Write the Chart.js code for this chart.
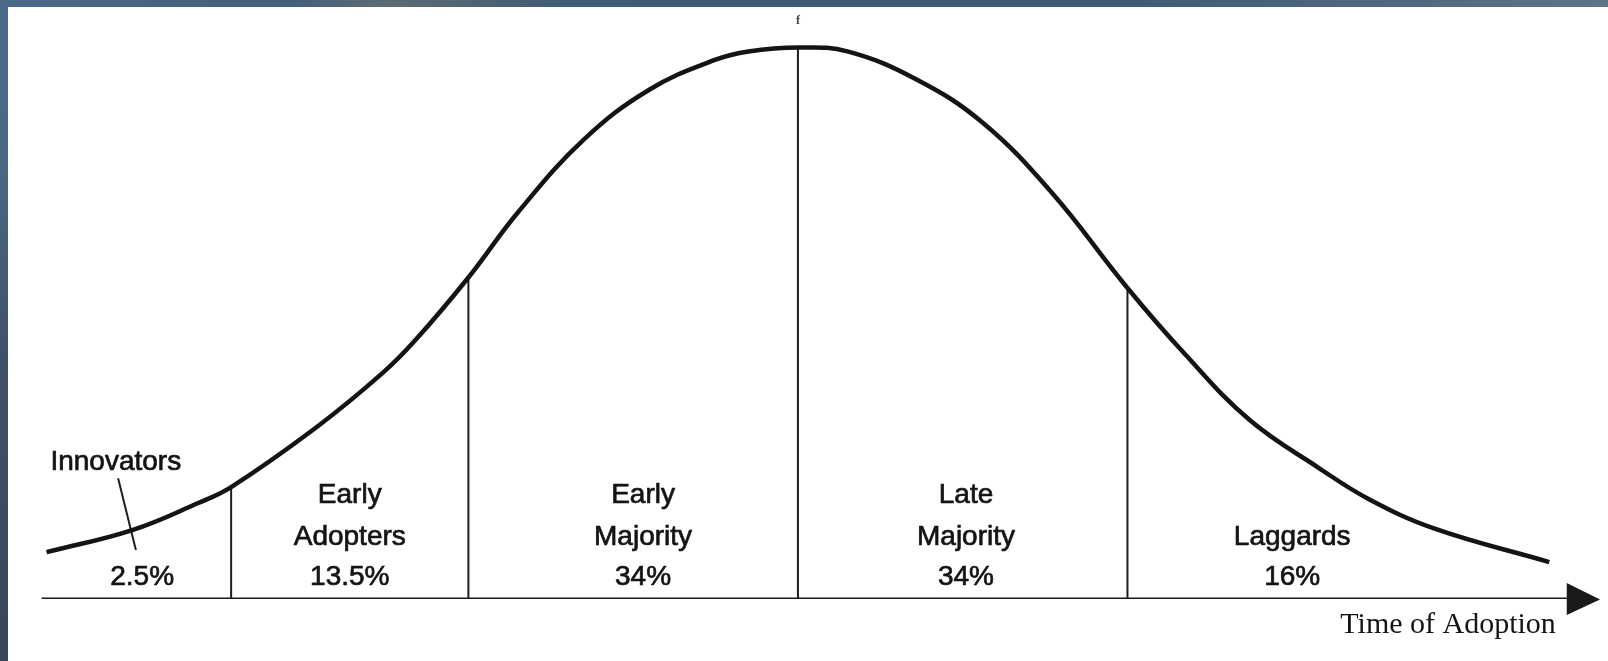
<!DOCTYPE html>
<html lang="en">
<head>
    <meta charset="UTF-8">
    <title>Diffusion of Innovations - Adopter Categories</title>
    <style>
        body {
            margin: 0;
            padding: 0;
            background-color: #fff;
            overflow: hidden;
        }
        .wrap {
            position: relative;
            width: 1608px;
            height: 661px;
        }
        /* slide frame bits along the top and left edge */
        .band-top {
            position: absolute;
            left: 0; top: 0;
            width: 1608px; height: 7px;
            background: linear-gradient(to right, #4a6a87 0%, #41607c 18%, #5d6c72 24%, #3f5b77 35%, #3e5a76 70%, #4d687f 85%, #5b7687 100%);
        }
        .band-left {
            position: absolute;
            left: 0; top: 0;
            width: 8px; height: 661px;
            background: linear-gradient(to bottom, #4b6b89 0%, #4a6883 25%, #3f5168 55%, #3a4457 100%);
        }
        canvas { display: block; }
    </style>
    <script src="https://cdn.jsdelivr.net/npm/chart.js"></script>
</head>
<body>
    <div class="wrap">
        <canvas id="adoptionChart" width="1608" height="661"></canvas>
        <div class="band-top"></div>
        <div class="band-left"></div>
    </div>

    <script>
        // Bell curve (x in std deviations from the mean, y = height, peak = 100)
        const curveX = [-2.28, -2.02, -1.82, -1.72, -1.46, -1.26, -1.16, -1.00, -0.85, -0.65, -0.45, -0.25, -0.15, 0.00,
                        0.15, 0.36, 0.56, 0.77, 1.00, 1.17, 1.37, 1.58, 1.73, 1.93, 2.28];
        const curveY = [8.5, 12.5, 17.4, 20.3, 31.2, 41.0, 47.0, 58.3, 70.1, 83.3, 92.4, 97.8, 99.3, 100,
                        99.3, 94.2, 86.4, 73.7, 56.4, 44.7, 32.5, 23.8, 18.2, 12.8, 6.7];

        // Vertical dividers between the adopter categories
        const dividerX = [-1.72, -1.00, 0.00, 1.00];
        const dividerTop = [20.3, 58.3, 100, 56.4];

        // Category labels
        const segmentNames = [['Innovators'], ['Early', 'Adopters'], ['Early', 'Majority'], ['Late', 'Majority'], ['Laggards']];
        const segmentShares = ['2.5%', '13.5%', '34%', '34%', '16%'];
        const labelX = [-1.99, -1.36, -0.47, 0.51, 1.50];
        const rowY = [2.5, 9.8, 17.4];        // text baselines, bottom row first

        // Innovators label sits above the curve with a leader line
        const innovatorsNameX = -2.07;
        const innovatorsNameY = 23.4;
        const leaderX = [-2.063, -2.009];
        const leaderY = [21.9, 8.9];

        // Time axis
        const axisStart = -2.295;
        const arrowBase = 2.333;
        const arrowTip = 2.434;
        const axisTitle = 'Time of Adoption';
        const axisTitleX = 2.30;
        const axisTitleY = -6.2;

        const INK = '#141414';

        function pts(xs, ys) {
            return xs.map((x, i) => ({ x: x, y: ys[i] }));
        }

        const datasets = [];

        // the curve
        datasets.push({
            data: pts(curveX, curveY),
            borderColor: INK,
            borderWidth: 4.5,
            tension: 0.4,
            pointRadius: 0,
            showLine: true,
            fill: false
        });

        // dividers
        dividerX.forEach((x, i) => {
            datasets.push({
                data: [{ x: x, y: 0 }, { x: x, y: dividerTop[i] }],
                borderColor: '#1e1e1e',
                borderWidth: 2,
                pointRadius: 0,
                showLine: true
            });
        });

        // leader line for Innovators
        datasets.push({
            data: pts(leaderX, leaderY),
            borderColor: '#1e1e1e',
            borderWidth: 2,
            pointRadius: 0,
            showLine: true
        });

        // time axis line
        datasets.push({
            data: [{ x: axisStart, y: 0 }, { x: arrowBase + 0.01, y: 0 }],
            borderColor: '#1a1a1a',
            borderWidth: 3,
            pointRadius: 0,
            showLine: true
        });

        // arrow head + text labels
        const labelPlugin = {
            id: 'labelPlugin',
            afterDatasetsDraw(chart) {
                const ctx = chart.ctx;
                const xs = chart.scales.x;
                const ys = chart.scales.y;
                const y0 = ys.getPixelForValue(0);

                ctx.save();
                // arrow head
                ctx.fillStyle = '#1a1a1a';
                ctx.beginPath();
                ctx.moveTo(xs.getPixelForValue(arrowBase), y0 - 16);
                ctx.lineTo(xs.getPixelForValue(arrowTip), y0 + 0.5);
                ctx.lineTo(xs.getPixelForValue(arrowBase), y0 + 16);
                ctx.closePath();
                ctx.fill();

                // category names and shares (slightly thickened, like the scanned print)
                ctx.fillStyle = INK;
                ctx.strokeStyle = INK;
                ctx.lineWidth = 0.7;
                ctx.textAlign = 'center';
                ctx.textBaseline = 'alphabetic';
                ctx.font = '28px "Liberation Sans", Arial, sans-serif';
                const put = (t, x, y) => { ctx.fillText(t, x, y); ctx.strokeText(t, x, y); };
                segmentNames.forEach((lines, i) => {
                    const cx = xs.getPixelForValue(labelX[i]);
                    put(segmentShares[i], cx, ys.getPixelForValue(rowY[0]));
                    if (i === 0) {
                        put(lines[0], xs.getPixelForValue(innovatorsNameX), ys.getPixelForValue(innovatorsNameY));
                        return;
                    }
                    lines.slice().reverse().forEach((t, k) => {
                        put(t, cx, ys.getPixelForValue(rowY[k + 1]));
                    });
                });

                // axis title
                ctx.textAlign = 'right';
                ctx.font = '30px "Liberation Serif", "Times New Roman", serif';
                ctx.fillText(axisTitle, xs.getPixelForValue(axisTitleX), ys.getPixelForValue(axisTitleY));

                // tiny f above the peak
                ctx.textAlign = 'center';
                ctx.fillStyle = '#444';
                ctx.font = 'bold 12px "Liberation Serif", serif';
                ctx.fillText('f', xs.getPixelForValue(0), ys.getPixelForValue(104.3));
                ctx.restore();
            }
        };

        new Chart(document.getElementById('adoptionChart').getContext('2d'), {
            type: 'scatter',
            data: { datasets: datasets },
            options: {
                responsive: false,
                animation: false,
                layout: { padding: { left: 40, right: 6, top: 20, bottom: 62 } },
                plugins: {
                    legend: { display: false },
                    tooltip: { enabled: false }
                },
                scales: {
                    x: { type: 'linear', min: -2.3, max: 2.44, display: false },
                    y: { type: 'linear', min: 0, max: 105, display: false }
                }
            },
            plugins: [labelPlugin]
        });
    </script>
</body>
</html>
